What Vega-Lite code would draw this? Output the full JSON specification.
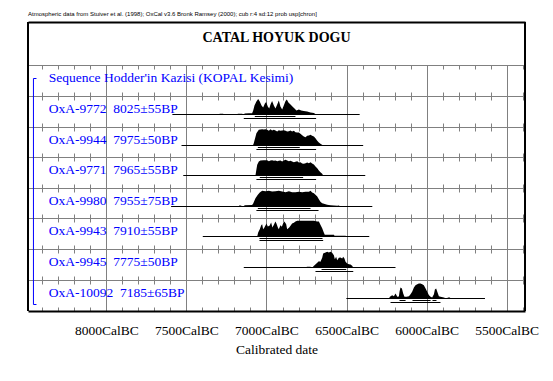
{
"$schema":"https://vega.github.io/schema/vega-lite/v6.json",
"background":"white",
"padding":{"left":27,"top":11,"right":5,"bottom":5},
"autosize":{"type":"pad"},
"spacing":0,
"bounds":"flush",
"title":{"text":"Atmospheric data from Stuiver et al. (1998); OxCal v3.6 Bronk Ramsey (2000); cub r:4 sd:12 prob usp[chron]","anchor":"start","frame":"group","font":"Liberation Sans","fontSize":6,"fontWeight":"normal","color":"black","offset":4},
"config":{"view":{"stroke":null},"axisX":{"tickCount":31,"tickSize":-4,"tickColor":"#808080","domainColor":"#808080","labels":false,"grid":false,"gridColor":"#808080"}},
"datasets":{
"rows":[
{"lab":"seq","txt":"Sequence Hodder'in Kazisi (KOPAL Kesimi)"},
{"lab":"9772","txt":"OxA-9772\u00a0\u00a08025±55BP","s":7588,"e":6418},
{"lab":"9944","txt":"OxA-9944\u00a0\u00a07975±50BP","s":7531,"e":6396},
{"lab":"9771","txt":"OxA-9771\u00a0\u00a07965±55BP","s":7520,"e":6383},
{"lab":"9980","txt":"OxA-9980\u00a0\u00a07955±75BP","s":7596,"e":6339},
{"lab":"9943","txt":"OxA-9943\u00a0\u00a07910±55BP","s":7398,"e":6358},
{"lab":"9945","txt":"OxA-9945\u00a0\u00a07775±50BP","s":7142,"e":6194},
{"lab":"10092","txt":"OxA-10092\u00a0\u00a07185±65BP","s":6501,"e":5635}
],
"ranges":[
{"lab":"9772","lvl":68,"s":7073,"e":6819},{"lab":"9772","lvl":95,"s":7142,"e":6690},
{"lab":"9944","lvl":68,"s":7054,"e":6792},{"lab":"9944","lvl":95,"s":7063,"e":6690},
{"lab":"9771","lvl":68,"s":7042,"e":6771},{"lab":"9771","lvl":95,"s":7063,"e":6690},
{"lab":"9980","lvl":68,"s":7054,"e":6725},{"lab":"9980","lvl":95,"s":7063,"e":6675},
{"lab":"9943","lvl":68,"s":7044,"e":6650},{"lab":"9943","lvl":95,"s":7044,"e":6646},
{"lab":"9945","lvl":68,"s":6656,"e":6502},{"lab":"9945","lvl":95,"s":6694,"e":6458},
{"lab":"10092","lvl":68,"s":6169,"e":6131},{"lab":"10092","lvl":68,"s":6088,"e":5975},{"lab":"10092","lvl":68,"s":5963,"e":5938},{"lab":"10092","lvl":95,"s":6225,"e":5913}
],
"dens":[
{"lab":"9772","yr":7298,"p":0},{"lab":"9772","yr":7292,"p":0.7},{"lab":"9772","yr":7271,"p":0.7},{"lab":"9772","yr":7267,"p":0},{"lab":"9772","yr":7183,"p":0},{"lab":"9772","yr":7179,"p":0.7},{"lab":"9772","yr":7152,"p":0.7},{"lab":"9772","yr":7146,"p":0},{"lab":"9772","yr":7140,"p":0},{"lab":"9772","yr":7137,"p":1},{"lab":"9772","yr":7110,"p":1.3},{"lab":"9772","yr":7090,"p":1.3},{"lab":"9772","yr":7083,"p":4},{"lab":"9772","yr":7075,"p":9},{"lab":"9772","yr":7063,"p":13},{"lab":"9772","yr":7052,"p":15.5},{"lab":"9772","yr":7042,"p":13},{"lab":"9772","yr":7031,"p":9},{"lab":"9772","yr":7021,"p":7},{"lab":"9772","yr":7010,"p":11},{"lab":"9772","yr":7002,"p":12.5},{"lab":"9772","yr":6992,"p":8},{"lab":"9772","yr":6983,"p":6},{"lab":"9772","yr":6975,"p":10},{"lab":"9772","yr":6965,"p":13.5},{"lab":"9772","yr":6954,"p":9},{"lab":"9772","yr":6944,"p":6},{"lab":"9772","yr":6933,"p":10},{"lab":"9772","yr":6923,"p":14},{"lab":"9772","yr":6913,"p":8},{"lab":"9772","yr":6902,"p":5},{"lab":"9772","yr":6892,"p":9},{"lab":"9772","yr":6881,"p":13.5},{"lab":"9772","yr":6873,"p":15},{"lab":"9772","yr":6863,"p":12},{"lab":"9772","yr":6850,"p":10},{"lab":"9772","yr":6838,"p":8},{"lab":"9772","yr":6825,"p":6},{"lab":"9772","yr":6813,"p":4},{"lab":"9772","yr":6798,"p":5},{"lab":"9772","yr":6783,"p":4},{"lab":"9772","yr":6767,"p":3.5},{"lab":"9772","yr":6746,"p":3},{"lab":"9772","yr":6725,"p":2},{"lab":"9772","yr":6704,"p":1.5},{"lab":"9772","yr":6690,"p":0},
{"lab":"9944","yr":7085,"p":0},{"lab":"9944","yr":7080,"p":2},{"lab":"9944","yr":7070,"p":8},{"lab":"9944","yr":7063,"p":12.3},{"lab":"9944","yr":7048,"p":15.7},{"lab":"9944","yr":7038,"p":16},{"lab":"9944","yr":7027,"p":16.3},{"lab":"9944","yr":7017,"p":16},{"lab":"9944","yr":7006,"p":16.3},{"lab":"9944","yr":6996,"p":15.7},{"lab":"9944","yr":6985,"p":14.7},{"lab":"9944","yr":6975,"p":16.3},{"lab":"9944","yr":6965,"p":15},{"lab":"9944","yr":6954,"p":15.7},{"lab":"9944","yr":6944,"p":15},{"lab":"9944","yr":6933,"p":14},{"lab":"9944","yr":6923,"p":15.3},{"lab":"9944","yr":6913,"p":14.7},{"lab":"9944","yr":6902,"p":15},{"lab":"9944","yr":6892,"p":15.3},{"lab":"9944","yr":6881,"p":14.7},{"lab":"9944","yr":6871,"p":14},{"lab":"9944","yr":6860,"p":14.3},{"lab":"9944","yr":6850,"p":15},{"lab":"9944","yr":6840,"p":14},{"lab":"9944","yr":6829,"p":14.7},{"lab":"9944","yr":6819,"p":13.3},{"lab":"9944","yr":6808,"p":13},{"lab":"9944","yr":6798,"p":13},{"lab":"9944","yr":6788,"p":11.7},{"lab":"9944","yr":6777,"p":10.3},{"lab":"9944","yr":6767,"p":9},{"lab":"9944","yr":6756,"p":8.3},{"lab":"9944","yr":6746,"p":9.7},{"lab":"9944","yr":6735,"p":10},{"lab":"9944","yr":6725,"p":10.7},{"lab":"9944","yr":6715,"p":9.7},{"lab":"9944","yr":6704,"p":9},{"lab":"9944","yr":6694,"p":7.3},{"lab":"9944","yr":6683,"p":4.7},{"lab":"9944","yr":6673,"p":3},{"lab":"9944","yr":6663,"p":1.7},{"lab":"9944","yr":6646,"p":0},
{"lab":"9771","yr":7069,"p":0},{"lab":"9771","yr":7063,"p":6},{"lab":"9771","yr":7058,"p":10.7},{"lab":"9771","yr":7048,"p":14},{"lab":"9771","yr":7038,"p":15},{"lab":"9771","yr":7017,"p":15.3},{"lab":"9771","yr":6996,"p":15.3},{"lab":"9771","yr":6985,"p":14.3},{"lab":"9771","yr":6975,"p":15},{"lab":"9771","yr":6965,"p":15.3},{"lab":"9771","yr":6954,"p":14.7},{"lab":"9771","yr":6944,"p":15},{"lab":"9771","yr":6933,"p":14.3},{"lab":"9771","yr":6923,"p":14.7},{"lab":"9771","yr":6913,"p":15},{"lab":"9771","yr":6902,"p":14},{"lab":"9771","yr":6892,"p":15},{"lab":"9771","yr":6881,"p":15.7},{"lab":"9771","yr":6871,"p":15},{"lab":"9771","yr":6860,"p":14.3},{"lab":"9771","yr":6850,"p":14.7},{"lab":"9771","yr":6840,"p":14},{"lab":"9771","yr":6829,"p":13.3},{"lab":"9771","yr":6819,"p":13.7},{"lab":"9771","yr":6808,"p":14.3},{"lab":"9771","yr":6798,"p":13},{"lab":"9771","yr":6788,"p":13.3},{"lab":"9771","yr":6777,"p":12},{"lab":"9771","yr":6767,"p":11.7},{"lab":"9771","yr":6756,"p":12.3},{"lab":"9771","yr":6746,"p":13},{"lab":"9771","yr":6735,"p":12.3},{"lab":"9771","yr":6725,"p":13.3},{"lab":"9771","yr":6715,"p":12},{"lab":"9771","yr":6704,"p":11},{"lab":"9771","yr":6694,"p":9},{"lab":"9771","yr":6683,"p":7.3},{"lab":"9771","yr":6673,"p":5},{"lab":"9771","yr":6663,"p":3.3},{"lab":"9771","yr":6652,"p":1.7},{"lab":"9771","yr":6646,"p":0},
{"lab":"9980","yr":7173,"p":0},{"lab":"9980","yr":7171,"p":1},{"lab":"9980","yr":7158,"p":1},{"lab":"9980","yr":7156,"p":0},{"lab":"9980","yr":7142,"p":0},{"lab":"9980","yr":7137,"p":1.3},{"lab":"9980","yr":7090,"p":1.5},{"lab":"9980","yr":7083,"p":3},{"lab":"9980","yr":7069,"p":8.3},{"lab":"9980","yr":7054,"p":11.7},{"lab":"9980","yr":7042,"p":14},{"lab":"9980","yr":7027,"p":15.7},{"lab":"9980","yr":7006,"p":15.3},{"lab":"9980","yr":6985,"p":15.7},{"lab":"9980","yr":6965,"p":15},{"lab":"9980","yr":6944,"p":15.3},{"lab":"9980","yr":6923,"p":15.7},{"lab":"9980","yr":6902,"p":15},{"lab":"9980","yr":6881,"p":14.3},{"lab":"9980","yr":6860,"p":15.3},{"lab":"9980","yr":6840,"p":14.3},{"lab":"9980","yr":6819,"p":14.3},{"lab":"9980","yr":6798,"p":14.7},{"lab":"9980","yr":6777,"p":14.3},{"lab":"9980","yr":6756,"p":14.7},{"lab":"9980","yr":6735,"p":14.7},{"lab":"9980","yr":6725,"p":15.7},{"lab":"9980","yr":6715,"p":14},{"lab":"9980","yr":6704,"p":13.3},{"lab":"9980","yr":6694,"p":11.7},{"lab":"9980","yr":6683,"p":10},{"lab":"9980","yr":6673,"p":7.3},{"lab":"9980","yr":6663,"p":4.7},{"lab":"9980","yr":6652,"p":3.3},{"lab":"9980","yr":6631,"p":2.3},{"lab":"9980","yr":6621,"p":1.7},{"lab":"9980","yr":6600,"p":1.3},{"lab":"9980","yr":6579,"p":1},{"lab":"9980","yr":6558,"p":0.7},{"lab":"9980","yr":6548,"p":1},{"lab":"9980","yr":6538,"p":0},
{"lab":"9943","yr":7058,"p":0},{"lab":"9943","yr":7052,"p":4},{"lab":"9943","yr":7042,"p":7.3},{"lab":"9943","yr":7033,"p":11.3},{"lab":"9943","yr":7027,"p":12.3},{"lab":"9943","yr":7021,"p":7.3},{"lab":"9943","yr":7013,"p":9},{"lab":"9943","yr":7000,"p":13},{"lab":"9943","yr":6992,"p":10},{"lab":"9943","yr":6981,"p":10.7},{"lab":"9943","yr":6971,"p":14},{"lab":"9943","yr":6963,"p":9},{"lab":"9943","yr":6954,"p":11.7},{"lab":"9943","yr":6944,"p":15},{"lab":"9943","yr":6938,"p":13},{"lab":"9943","yr":6929,"p":9},{"lab":"9943","yr":6923,"p":7.3},{"lab":"9943","yr":6913,"p":11.3},{"lab":"9943","yr":6904,"p":9.7},{"lab":"9943","yr":6896,"p":13.3},{"lab":"9943","yr":6888,"p":15},{"lab":"9943","yr":6877,"p":12.3},{"lab":"9943","yr":6871,"p":7.3},{"lab":"9943","yr":6858,"p":9},{"lab":"9943","yr":6850,"p":10.7},{"lab":"9943","yr":6840,"p":13},{"lab":"9943","yr":6829,"p":13.7},{"lab":"9943","yr":6819,"p":15},{"lab":"9943","yr":6808,"p":15.7},{"lab":"9943","yr":6788,"p":15.7},{"lab":"9943","yr":6767,"p":15.7},{"lab":"9943","yr":6746,"p":15.7},{"lab":"9943","yr":6725,"p":15.7},{"lab":"9943","yr":6704,"p":15.7},{"lab":"9943","yr":6683,"p":15},{"lab":"9943","yr":6673,"p":15},{"lab":"9943","yr":6663,"p":11.7},{"lab":"9943","yr":6652,"p":8.3},{"lab":"9943","yr":6642,"p":4},{"lab":"9943","yr":6636,"p":1.7},{"lab":"9943","yr":6579,"p":1.7},{"lab":"9943","yr":6575,"p":0.7},{"lab":"9943","yr":6506,"p":0.7},{"lab":"9943","yr":6500,"p":0},
{"lab":"9945","yr":6750,"p":0},{"lab":"9945","yr":6748,"p":0.7},{"lab":"9945","yr":6725,"p":0.7},{"lab":"9945","yr":6721,"p":0},{"lab":"9945","yr":6712,"p":0},{"lab":"9945","yr":6708,"p":1},{"lab":"9945","yr":6700,"p":2.3},{"lab":"9945","yr":6688,"p":4},{"lab":"9945","yr":6673,"p":6.3},{"lab":"9945","yr":6663,"p":5.7},{"lab":"9945","yr":6652,"p":9.7},{"lab":"9945","yr":6646,"p":14},{"lab":"9945","yr":6631,"p":15},{"lab":"9945","yr":6621,"p":15.7},{"lab":"9945","yr":6610,"p":15},{"lab":"9945","yr":6600,"p":15.7},{"lab":"9945","yr":6590,"p":14.7},{"lab":"9945","yr":6579,"p":12.3},{"lab":"9945","yr":6573,"p":8.3},{"lab":"9945","yr":6565,"p":10.7},{"lab":"9945","yr":6558,"p":7.3},{"lab":"9945","yr":6548,"p":9.7},{"lab":"9945","yr":6538,"p":10},{"lab":"9945","yr":6527,"p":9},{"lab":"9945","yr":6521,"p":10.7},{"lab":"9945","yr":6513,"p":9},{"lab":"9945","yr":6506,"p":5.7},{"lab":"9945","yr":6496,"p":4},{"lab":"9945","yr":6485,"p":3.3},{"lab":"9945","yr":6475,"p":3},{"lab":"9945","yr":6465,"p":1.7},{"lab":"9945","yr":6458,"p":0},
{"lab":"10092","yr":6235,"p":0},{"lab":"10092","yr":6229,"p":1.7},{"lab":"10092","yr":6215,"p":3.3},{"lab":"10092","yr":6204,"p":2.3},{"lab":"10092","yr":6194,"p":5},{"lab":"10092","yr":6183,"p":1.7},{"lab":"10092","yr":6173,"p":2},{"lab":"10092","yr":6169,"p":6.7},{"lab":"10092","yr":6163,"p":11},{"lab":"10092","yr":6154,"p":10},{"lab":"10092","yr":6146,"p":5},{"lab":"10092","yr":6138,"p":1.7},{"lab":"10092","yr":6125,"p":1.7},{"lab":"10092","yr":6110,"p":2.3},{"lab":"10092","yr":6100,"p":4.3},{"lab":"10092","yr":6090,"p":6.7},{"lab":"10092","yr":6079,"p":11},{"lab":"10092","yr":6069,"p":13.3},{"lab":"10092","yr":6058,"p":14.3},{"lab":"10092","yr":6048,"p":15},{"lab":"10092","yr":6038,"p":15},{"lab":"10092","yr":6027,"p":14.3},{"lab":"10092","yr":6017,"p":13.3},{"lab":"10092","yr":6006,"p":10},{"lab":"10092","yr":5996,"p":6.7},{"lab":"10092","yr":5985,"p":3.3},{"lab":"10092","yr":5975,"p":1.7},{"lab":"10092","yr":5965,"p":1},{"lab":"10092","yr":5954,"p":4.3},{"lab":"10092","yr":5948,"p":9},{"lab":"10092","yr":5940,"p":10},{"lab":"10092","yr":5933,"p":6.7},{"lab":"10092","yr":5923,"p":2.3},{"lab":"10092","yr":5913,"p":1.7},{"lab":"10092","yr":5892,"p":1},{"lab":"10092","yr":5881,"p":0.3},{"lab":"10092","yr":5871,"p":0},{"lab":"10092","yr":5867,"p":1},{"lab":"10092","yr":5854,"p":1},{"lab":"10092","yr":5850,"p":0}
]
},
"vconcat":[
{"height":43,"width":497,"resolve":{"axis":{"x":"independent"}},"layer":[
 {"data":{"values":[{}]},"mark":{"type":"text","text":"CATAL HOYUK DOGU","font":"Liberation Serif","fontSize":14,"fontWeight":"bold","color":"black","baseline":"alphabetic","dy":-1.5}},
 {"data":{"values":[{}]},"mark":{"type":"rule","color":"black","strokeWidth":2},"encoding":{"x":{"datum":8490,"type":"quantitative","scale":{"domain":[5385,8490],"reverse":true,"nice":false,"zero":false},"axis":{"orient":"top","title":null,"ticks":false,"domainColor":"black","domainWidth":2}}}},
 {"data":{"values":[{}]},"mark":{"type":"rule","color":"black","strokeWidth":2},"encoding":{"x":{"datum":5385,"type":"quantitative","axis":null}}}
]},
{"height":31,"width":497,"resolve":{"axis":{"x":"independent"}},"layer":[
 {"data":{"name":"rows"},"transform":[{"filter":"datum.lab === 'seq'"}],"mark":{"type":"text","color":"#0000ff","font":"Liberation Serif","fontSize":13.5,"align":"left","baseline":"alphabetic"},"encoding":{"x":{"datum":8360,"type":"quantitative","scale":{"domain":[5385,8490],"reverse":true,"nice":false,"zero":false},"axis":{"orient":"bottom","title":null,"grid":true,"gridOpacity":{"condition":{"test":"datum.value % 500 === 0","value":1},"value":0}}},"y":{"datum":1.5,"type":"quantitative","scale":{"domain":[-12.5,18.5],"nice":false,"zero":false},"axis":null},"text":{"field":"txt"}}},
 {"data":{"values":[{}]},"mark":{"type":"rule","color":"black","strokeWidth":2},"encoding":{"x":{"datum":8490,"type":"quantitative","axis":{"orient":"top","title":null}}}},
 {"data":{"values":[{}]},"mark":{"type":"rule","color":"black","strokeWidth":2},"encoding":{"x":{"datum":5385,"type":"quantitative","axis":null}}},
 {"data":{"values":[{}]},"mark":{"type":"rule","color":"#0000ff"},"encoding":{"x":{"datum":8456,"type":"quantitative","axis":null},"y":{"datum":5,"type":"quantitative","axis":null},"y2":{"datum":-12.5}}},
 {"data":{"values":[{}]},"mark":{"type":"rule","color":"#0000ff"},"encoding":{"x":{"datum":8456,"type":"quantitative","axis":null},"x2":{"datum":8437},"y":{"datum":5,"type":"quantitative","axis":null}}}
]},
{"height":31,"width":497,"resolve":{"axis":{"x":"independent"}},"layer":[
 {"data":{"name":"dens"},"transform":[{"filter":"datum.lab === '9772'"}],"mark":{"type":"area","color":"black"},"encoding":{"x":{"field":"yr","type":"quantitative","scale":{"domain":[5385,8490],"reverse":true,"nice":false,"zero":false},"axis":{"orient":"bottom","title":null,"grid":true,"gridOpacity":{"condition":{"test":"datum.value % 500 === 0","value":1},"value":0}}},"y":{"field":"p","type":"quantitative","scale":{"domain":[-12.5,18.5],"nice":false,"zero":false},"axis":null}}},
 {"data":{"name":"rows"},"transform":[{"filter":"datum.lab === '9772'"}],"mark":{"type":"rule","color":"black"},"encoding":{"x":{"field":"s","type":"quantitative","axis":{"orient":"top","title":null}},"x2":{"field":"e"},"y":{"datum":0,"type":"quantitative","axis":null}}},
 {"data":{"name":"ranges"},"transform":[{"filter":"datum.lab === '9772' && datum.lvl === 68"}],"mark":{"type":"rule","color":"black"},"encoding":{"x":{"field":"s","type":"quantitative","axis":null},"x2":{"field":"e"},"y":{"datum":-2,"type":"quantitative","axis":null}}},
 {"data":{"name":"ranges"},"transform":[{"filter":"datum.lab === '9772' && datum.lvl === 95"}],"mark":{"type":"rule","color":"black"},"encoding":{"x":{"field":"s","type":"quantitative","axis":null},"x2":{"field":"e"},"y":{"datum":-4,"type":"quantitative","axis":null}}},
 {"data":{"name":"rows"},"transform":[{"filter":"datum.lab === '9772'"}],"mark":{"type":"text","color":"#0000ff","font":"Liberation Serif","fontSize":13.5,"align":"left","baseline":"alphabetic"},"encoding":{"x":{"datum":8360,"type":"quantitative","axis":null},"y":{"datum":1.5,"type":"quantitative","axis":null},"text":{"field":"txt"}}},
 {"data":{"values":[{}]},"mark":{"type":"rule","color":"#0000ff"},"encoding":{"x":{"datum":8456,"type":"quantitative","axis":null}}},
 {"data":{"values":[{}]},"mark":{"type":"rule","color":"black","strokeWidth":2},"encoding":{"x":{"datum":8490,"type":"quantitative","axis":null}}},
 {"data":{"values":[{}]},"mark":{"type":"rule","color":"black","strokeWidth":2},"encoding":{"x":{"datum":5385,"type":"quantitative","axis":null}}}
]},
{"height":30,"width":497,"resolve":{"axis":{"x":"independent"}},"layer":[
 {"data":{"name":"dens"},"transform":[{"filter":"datum.lab === '9944'"}],"mark":{"type":"area","color":"black"},"encoding":{"x":{"field":"yr","type":"quantitative","scale":{"domain":[5385,8490],"reverse":true,"nice":false,"zero":false},"axis":{"orient":"bottom","title":null,"grid":true,"gridOpacity":{"condition":{"test":"datum.value % 500 === 0","value":1},"value":0}}},"y":{"field":"p","type":"quantitative","scale":{"domain":[-11.5,18.5],"nice":false,"zero":false},"axis":null}}},
 {"data":{"name":"rows"},"transform":[{"filter":"datum.lab === '9944'"}],"mark":{"type":"rule","color":"black"},"encoding":{"x":{"field":"s","type":"quantitative","axis":{"orient":"top","title":null}},"x2":{"field":"e"},"y":{"datum":0,"type":"quantitative","axis":null}}},
 {"data":{"name":"ranges"},"transform":[{"filter":"datum.lab === '9944' && datum.lvl === 68"}],"mark":{"type":"rule","color":"black"},"encoding":{"x":{"field":"s","type":"quantitative","axis":null},"x2":{"field":"e"},"y":{"datum":-2,"type":"quantitative","axis":null}}},
 {"data":{"name":"ranges"},"transform":[{"filter":"datum.lab === '9944' && datum.lvl === 95"}],"mark":{"type":"rule","color":"black"},"encoding":{"x":{"field":"s","type":"quantitative","axis":null},"x2":{"field":"e"},"y":{"datum":-4,"type":"quantitative","axis":null}}},
 {"data":{"name":"rows"},"transform":[{"filter":"datum.lab === '9944'"}],"mark":{"type":"text","color":"#0000ff","font":"Liberation Serif","fontSize":13.5,"align":"left","baseline":"alphabetic"},"encoding":{"x":{"datum":8360,"type":"quantitative","axis":null},"y":{"datum":1.5,"type":"quantitative","axis":null},"text":{"field":"txt"}}},
 {"data":{"values":[{}]},"mark":{"type":"rule","color":"#0000ff"},"encoding":{"x":{"datum":8456,"type":"quantitative","axis":null}}},
 {"data":{"values":[{}]},"mark":{"type":"rule","color":"black","strokeWidth":2},"encoding":{"x":{"datum":8490,"type":"quantitative","axis":null}}},
 {"data":{"values":[{}]},"mark":{"type":"rule","color":"black","strokeWidth":2},"encoding":{"x":{"datum":5385,"type":"quantitative","axis":null}}}
]},
{"height":31,"width":497,"resolve":{"axis":{"x":"independent"}},"layer":[
 {"data":{"name":"dens"},"transform":[{"filter":"datum.lab === '9771'"}],"mark":{"type":"area","color":"black"},"encoding":{"x":{"field":"yr","type":"quantitative","scale":{"domain":[5385,8490],"reverse":true,"nice":false,"zero":false},"axis":{"orient":"bottom","title":null,"grid":true,"gridOpacity":{"condition":{"test":"datum.value % 500 === 0","value":1},"value":0}}},"y":{"field":"p","type":"quantitative","scale":{"domain":[-12.5,18.5],"nice":false,"zero":false},"axis":null}}},
 {"data":{"name":"rows"},"transform":[{"filter":"datum.lab === '9771'"}],"mark":{"type":"rule","color":"black"},"encoding":{"x":{"field":"s","type":"quantitative","axis":{"orient":"top","title":null}},"x2":{"field":"e"},"y":{"datum":0,"type":"quantitative","axis":null}}},
 {"data":{"name":"ranges"},"transform":[{"filter":"datum.lab === '9771' && datum.lvl === 68"}],"mark":{"type":"rule","color":"black"},"encoding":{"x":{"field":"s","type":"quantitative","axis":null},"x2":{"field":"e"},"y":{"datum":-2,"type":"quantitative","axis":null}}},
 {"data":{"name":"ranges"},"transform":[{"filter":"datum.lab === '9771' && datum.lvl === 95"}],"mark":{"type":"rule","color":"black"},"encoding":{"x":{"field":"s","type":"quantitative","axis":null},"x2":{"field":"e"},"y":{"datum":-4,"type":"quantitative","axis":null}}},
 {"data":{"name":"rows"},"transform":[{"filter":"datum.lab === '9771'"}],"mark":{"type":"text","color":"#0000ff","font":"Liberation Serif","fontSize":13.5,"align":"left","baseline":"alphabetic"},"encoding":{"x":{"datum":8360,"type":"quantitative","axis":null},"y":{"datum":1.5,"type":"quantitative","axis":null},"text":{"field":"txt"}}},
 {"data":{"values":[{}]},"mark":{"type":"rule","color":"#0000ff"},"encoding":{"x":{"datum":8456,"type":"quantitative","axis":null}}},
 {"data":{"values":[{}]},"mark":{"type":"rule","color":"black","strokeWidth":2},"encoding":{"x":{"datum":8490,"type":"quantitative","axis":null}}},
 {"data":{"values":[{}]},"mark":{"type":"rule","color":"black","strokeWidth":2},"encoding":{"x":{"datum":5385,"type":"quantitative","axis":null}}}
]},
{"height":30,"width":497,"resolve":{"axis":{"x":"independent"}},"layer":[
 {"data":{"name":"dens"},"transform":[{"filter":"datum.lab === '9980'"}],"mark":{"type":"area","color":"black"},"encoding":{"x":{"field":"yr","type":"quantitative","scale":{"domain":[5385,8490],"reverse":true,"nice":false,"zero":false},"axis":{"orient":"bottom","title":null,"grid":true,"gridOpacity":{"condition":{"test":"datum.value % 500 === 0","value":1},"value":0}}},"y":{"field":"p","type":"quantitative","scale":{"domain":[-11.5,18.5],"nice":false,"zero":false},"axis":null}}},
 {"data":{"name":"rows"},"transform":[{"filter":"datum.lab === '9980'"}],"mark":{"type":"rule","color":"black"},"encoding":{"x":{"field":"s","type":"quantitative","axis":{"orient":"top","title":null}},"x2":{"field":"e"},"y":{"datum":0,"type":"quantitative","axis":null}}},
 {"data":{"name":"ranges"},"transform":[{"filter":"datum.lab === '9980' && datum.lvl === 68"}],"mark":{"type":"rule","color":"black"},"encoding":{"x":{"field":"s","type":"quantitative","axis":null},"x2":{"field":"e"},"y":{"datum":-2,"type":"quantitative","axis":null}}},
 {"data":{"name":"ranges"},"transform":[{"filter":"datum.lab === '9980' && datum.lvl === 95"}],"mark":{"type":"rule","color":"black"},"encoding":{"x":{"field":"s","type":"quantitative","axis":null},"x2":{"field":"e"},"y":{"datum":-4,"type":"quantitative","axis":null}}},
 {"data":{"name":"rows"},"transform":[{"filter":"datum.lab === '9980'"}],"mark":{"type":"text","color":"#0000ff","font":"Liberation Serif","fontSize":13.5,"align":"left","baseline":"alphabetic"},"encoding":{"x":{"datum":8360,"type":"quantitative","axis":null},"y":{"datum":1.5,"type":"quantitative","axis":null},"text":{"field":"txt"}}},
 {"data":{"values":[{}]},"mark":{"type":"rule","color":"#0000ff"},"encoding":{"x":{"datum":8456,"type":"quantitative","axis":null}}},
 {"data":{"values":[{}]},"mark":{"type":"rule","color":"black","strokeWidth":2},"encoding":{"x":{"datum":8490,"type":"quantitative","axis":null}}},
 {"data":{"values":[{}]},"mark":{"type":"rule","color":"black","strokeWidth":2},"encoding":{"x":{"datum":5385,"type":"quantitative","axis":null}}}
]},
{"height":31,"width":497,"resolve":{"axis":{"x":"independent"}},"layer":[
 {"data":{"name":"dens"},"transform":[{"filter":"datum.lab === '9943'"}],"mark":{"type":"area","color":"black"},"encoding":{"x":{"field":"yr","type":"quantitative","scale":{"domain":[5385,8490],"reverse":true,"nice":false,"zero":false},"axis":{"orient":"bottom","title":null,"grid":true,"gridOpacity":{"condition":{"test":"datum.value % 500 === 0","value":1},"value":0}}},"y":{"field":"p","type":"quantitative","scale":{"domain":[-12.5,18.5],"nice":false,"zero":false},"axis":null}}},
 {"data":{"name":"rows"},"transform":[{"filter":"datum.lab === '9943'"}],"mark":{"type":"rule","color":"black"},"encoding":{"x":{"field":"s","type":"quantitative","axis":{"orient":"top","title":null}},"x2":{"field":"e"},"y":{"datum":0,"type":"quantitative","axis":null}}},
 {"data":{"name":"ranges"},"transform":[{"filter":"datum.lab === '9943' && datum.lvl === 68"}],"mark":{"type":"rule","color":"black"},"encoding":{"x":{"field":"s","type":"quantitative","axis":null},"x2":{"field":"e"},"y":{"datum":-2,"type":"quantitative","axis":null}}},
 {"data":{"name":"ranges"},"transform":[{"filter":"datum.lab === '9943' && datum.lvl === 95"}],"mark":{"type":"rule","color":"black"},"encoding":{"x":{"field":"s","type":"quantitative","axis":null},"x2":{"field":"e"},"y":{"datum":-4,"type":"quantitative","axis":null}}},
 {"data":{"name":"rows"},"transform":[{"filter":"datum.lab === '9943'"}],"mark":{"type":"text","color":"#0000ff","font":"Liberation Serif","fontSize":13.5,"align":"left","baseline":"alphabetic"},"encoding":{"x":{"datum":8360,"type":"quantitative","axis":null},"y":{"datum":1.5,"type":"quantitative","axis":null},"text":{"field":"txt"}}},
 {"data":{"values":[{}]},"mark":{"type":"rule","color":"#0000ff"},"encoding":{"x":{"datum":8456,"type":"quantitative","axis":null}}},
 {"data":{"values":[{}]},"mark":{"type":"rule","color":"black","strokeWidth":2},"encoding":{"x":{"datum":8490,"type":"quantitative","axis":null}}},
 {"data":{"values":[{}]},"mark":{"type":"rule","color":"black","strokeWidth":2},"encoding":{"x":{"datum":5385,"type":"quantitative","axis":null}}}
]},
{"height":31,"width":497,"resolve":{"axis":{"x":"independent"}},"layer":[
 {"data":{"name":"dens"},"transform":[{"filter":"datum.lab === '9945'"}],"mark":{"type":"area","color":"black"},"encoding":{"x":{"field":"yr","type":"quantitative","scale":{"domain":[5385,8490],"reverse":true,"nice":false,"zero":false},"axis":{"orient":"bottom","title":null,"grid":true,"gridOpacity":{"condition":{"test":"datum.value % 500 === 0","value":1},"value":0}}},"y":{"field":"p","type":"quantitative","scale":{"domain":[-12.5,18.5],"nice":false,"zero":false},"axis":null}}},
 {"data":{"name":"rows"},"transform":[{"filter":"datum.lab === '9945'"}],"mark":{"type":"rule","color":"black"},"encoding":{"x":{"field":"s","type":"quantitative","axis":{"orient":"top","title":null}},"x2":{"field":"e"},"y":{"datum":0,"type":"quantitative","axis":null}}},
 {"data":{"name":"ranges"},"transform":[{"filter":"datum.lab === '9945' && datum.lvl === 68"}],"mark":{"type":"rule","color":"black"},"encoding":{"x":{"field":"s","type":"quantitative","axis":null},"x2":{"field":"e"},"y":{"datum":-2,"type":"quantitative","axis":null}}},
 {"data":{"name":"ranges"},"transform":[{"filter":"datum.lab === '9945' && datum.lvl === 95"}],"mark":{"type":"rule","color":"black"},"encoding":{"x":{"field":"s","type":"quantitative","axis":null},"x2":{"field":"e"},"y":{"datum":-4,"type":"quantitative","axis":null}}},
 {"data":{"name":"rows"},"transform":[{"filter":"datum.lab === '9945'"}],"mark":{"type":"text","color":"#0000ff","font":"Liberation Serif","fontSize":13.5,"align":"left","baseline":"alphabetic"},"encoding":{"x":{"datum":8360,"type":"quantitative","axis":null},"y":{"datum":1.5,"type":"quantitative","axis":null},"text":{"field":"txt"}}},
 {"data":{"values":[{}]},"mark":{"type":"rule","color":"#0000ff"},"encoding":{"x":{"datum":8456,"type":"quantitative","axis":null}}},
 {"data":{"values":[{}]},"mark":{"type":"rule","color":"black","strokeWidth":2},"encoding":{"x":{"datum":8490,"type":"quantitative","axis":null}}},
 {"data":{"values":[{}]},"mark":{"type":"rule","color":"black","strokeWidth":2},"encoding":{"x":{"datum":5385,"type":"quantitative","axis":null}}}
]},
{"height":31,"width":497,"resolve":{"axis":{"x":"independent"}},"layer":[
 {"data":{"name":"dens"},"transform":[{"filter":"datum.lab === '10092'"}],"mark":{"type":"area","color":"black"},"encoding":{"x":{"field":"yr","type":"quantitative","scale":{"domain":[5385,8490],"reverse":true,"nice":false,"zero":false},"axis":{"orient":"bottom","title":"Calibrated date","grid":true,"gridOpacity":{"condition":{"test":"datum.value % 500 === 0","value":1},"value":0},"labels":true,"labelExpr":"datum.value % 500 === 0 ? datum.value + 'CalBC' : ''","labelFont":"Liberation Serif","labelFontSize":13.5,"labelColor":"black","labelOverlap":false,"labelFlush":false,"labelPadding":16,"domainColor":"black","domainWidth":2,"titleFont":"Liberation Serif","titleFontSize":13.5,"titleFontWeight":"normal","titleColor":"black","titlePadding":6}},"y":{"field":"p","type":"quantitative","scale":{"domain":[-12.5,18.5],"nice":false,"zero":false},"axis":null}}},
 {"data":{"name":"rows"},"transform":[{"filter":"datum.lab === '10092'"}],"mark":{"type":"rule","color":"black"},"encoding":{"x":{"field":"s","type":"quantitative","axis":{"orient":"top","title":null}},"x2":{"field":"e"},"y":{"datum":0,"type":"quantitative","axis":null}}},
 {"data":{"name":"ranges"},"transform":[{"filter":"datum.lab === '10092' && datum.lvl === 68"}],"mark":{"type":"rule","color":"black"},"encoding":{"x":{"field":"s","type":"quantitative","axis":null},"x2":{"field":"e"},"y":{"datum":-2,"type":"quantitative","axis":null}}},
 {"data":{"name":"ranges"},"transform":[{"filter":"datum.lab === '10092' && datum.lvl === 95"}],"mark":{"type":"rule","color":"black"},"encoding":{"x":{"field":"s","type":"quantitative","axis":null},"x2":{"field":"e"},"y":{"datum":-4,"type":"quantitative","axis":null}}},
 {"data":{"name":"rows"},"transform":[{"filter":"datum.lab === '10092'"}],"mark":{"type":"text","color":"#0000ff","font":"Liberation Serif","fontSize":13.5,"align":"left","baseline":"alphabetic"},"encoding":{"x":{"datum":8360,"type":"quantitative","axis":null},"y":{"datum":1.5,"type":"quantitative","axis":null},"text":{"field":"txt"}}},
 {"data":{"values":[{}]},"mark":{"type":"rule","color":"#0000ff"},"encoding":{"x":{"datum":8456,"type":"quantitative","axis":null},"y":{"datum":18.5,"type":"quantitative","axis":null},"y2":{"datum":-6}}},
 {"data":{"values":[{}]},"mark":{"type":"rule","color":"#0000ff"},"encoding":{"x":{"datum":8456,"type":"quantitative","axis":null},"x2":{"datum":8437},"y":{"datum":-6,"type":"quantitative","axis":null}}},
 {"data":{"values":[{}]},"mark":{"type":"rule","color":"black","strokeWidth":2},"encoding":{"x":{"datum":8490,"type":"quantitative","axis":null}}},
 {"data":{"values":[{}]},"mark":{"type":"rule","color":"black","strokeWidth":2},"encoding":{"x":{"datum":5385,"type":"quantitative","axis":null}}}
]}
]
}
